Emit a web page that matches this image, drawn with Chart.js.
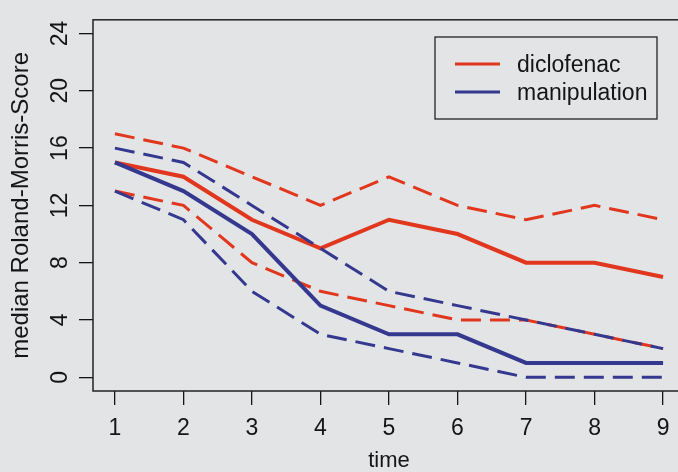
<!DOCTYPE html>
<html>
<head>
<meta charset="utf-8">
<script src="https://cdn.jsdelivr.net/npm/chart.js@4"></script>
<style>
  html, body { margin: 0; padding: 0; background: #e3e4e6; overflow: hidden; }
  #wrap { width: 686px; height: 472px; }
</style>
</head>
<body>
<div id="wrap"><canvas id="c" width="686" height="472"></canvas></div>
<script>
// Median Roland-Morris score over time, with upper / lower bands per treatment
const time = [1, 2, 3, 4, 5, 6, 7, 8, 9];
const yTicks = [0, 4, 8, 12, 16, 20, 24];

const diclofenacMedian = [15, 14, 11, 9, 11, 10, 8, 8, 7];
const diclofenacUpper  = [17, 16, 14, 12, 14, 12, 11, 12, 11];
const diclofenacLower  = [13, 12, 8, 6, 5, 4, 4, 3, 2];

const manipulationMedian = [15, 13, 10, 5, 3, 3, 1, 1, 1];
const manipulationUpper  = [16, 15, 12, 9, 6, 5, 4, 3, 2];
const manipulationLower  = [13, 11, 6, 3, 2, 1, 0, 0, 0];

const RED = '#e2371f';
const BLUE = '#34388f';
const INK = '#151515';
const BG = '#e3e4e6';
const FONT = "'Liberation Sans', Arial, Helvetica, sans-serif";

const pts = arr => arr.map((v, i) => ({ x: time[i], y: v }));

function line(label, values, color, dashed, order) {
  return {
    label,
    data: pts(values),
    borderColor: color,
    backgroundColor: color,
    borderWidth: dashed ? 3 : 4,
    borderDash: dashed ? [20, 9] : [],
    pointRadius: 0,
    fill: false,
    tension: 0,
    order
  };
}

const datasets = [
  line('diclofenac', diclofenacMedian, RED, false, 1),
  line('diclofenac upper', diclofenacUpper, RED, true, 1),
  line('diclofenac lower', diclofenacLower, RED, true, 1),
  line('manipulation', manipulationMedian, BLUE, false, 0),
  line('manipulation upper', manipulationUpper, BLUE, true, 0),
  line('manipulation lower', manipulationLower, BLUE, true, 0)
];

// Page background and the plot frame
const frame = {
  id: 'frame',
  beforeDraw(chart) {
    const { ctx, width, height } = chart;
    ctx.save();
    ctx.fillStyle = BG;
    ctx.fillRect(0, 0, width, height);
    ctx.restore();
  },
  afterDatasetsDraw(chart) {
    const { ctx, chartArea: a } = chart;
    ctx.save();
    ctx.strokeStyle = '#222';
    ctx.lineWidth = 1.5;
    ctx.strokeRect(a.left, a.top, a.right - a.left, a.bottom - a.top);
    ctx.restore();
  }
};

// Boxed legend in the upper right corner, one entry per median line
const boxLegend = {
  id: 'boxLegend',
  afterDraw(chart) {
    const { ctx } = chart;
    const entries = [chart.data.datasets[0], chart.data.datasets[3]];
    const bx = 435, by = 37, bw = 222, bh = 82;
    ctx.save();
    ctx.strokeStyle = '#222';
    ctx.lineWidth = 1.3;
    ctx.strokeRect(bx, by, bw, bh);
    ctx.font = '23px ' + FONT;
    ctx.textBaseline = 'middle';
    ctx.textAlign = 'left';
    entries.forEach((ds, i) => {
      const y = 64 + i * 28;
      ctx.strokeStyle = ds.borderColor;
      ctx.lineWidth = 3;
      ctx.beginPath();
      ctx.moveTo(455, y);
      ctx.lineTo(500, y);
      ctx.stroke();
      ctx.fillStyle = INK;
      ctx.fillText(ds.label, 517, y + 2);
    });
    ctx.restore();
  }
};

new Chart(document.getElementById('c'), {
  type: 'line',
  data: { datasets },
  options: {
    responsive: false,
    animation: false,
    layout: { padding: { top: 15, right: 1, left: 0, bottom: 0 } },
    plugins: { legend: { display: false }, tooltip: { enabled: false } },
    scales: {
      x: {
        type: 'linear',
        min: 0.68,
        max: 9.32,
        afterBuildTicks: s => { s.ticks = time.map(v => ({ value: v })); },
        afterFit: s => { s.height = 81; },
        grid: { drawOnChartArea: false, tickLength: 14, color: INK, lineWidth: 1.3 },
        border: { display: false },
        ticks: { color: INK, font: { family: FONT, size: 23 }, padding: 10, maxRotation: 0 },
        title: { display: true, text: 'time', color: INK, font: { family: FONT, size: 22 }, padding: { top: 0, bottom: -2 } }
      },
      y: {
        type: 'linear',
        min: -0.96,
        max: 24.96,
        afterBuildTicks: s => { s.ticks = yTicks.map(v => ({ value: v })); },
        afterFit: s => { s.width = 93; },
        grid: { drawOnChartArea: false, tickLength: 14, color: INK, lineWidth: 1.3 },
        border: { display: false },
        ticks: { color: INK, font: { family: FONT, size: 23 }, padding: 6, minRotation: 90, maxRotation: 90, crossAlign: 'center' },
        title: { display: true, text: 'median Roland-Morris-Score', color: INK, font: { family: FONT, size: 24 }, padding: { top: 7, bottom: 0 } }
      }
    }
  },
  plugins: [frame, boxLegend]
});
</script>
</body>
</html>
